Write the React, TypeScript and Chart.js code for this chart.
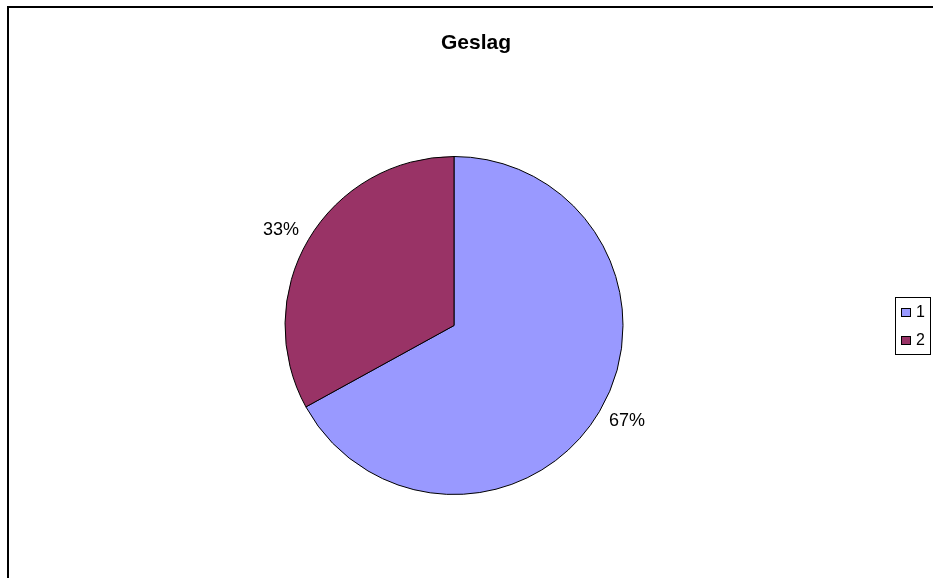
import React, { useEffect, useRef } from "react";
import { Chart, registerables } from "chart.js";

Chart.register(...registerables);

const TITLE = "Geslag";
const CATEGORIES = ["1", "2"];
const VALUES = [67, 33];
const COLORS = ["#9999FF", "#993366"];

const overlayPlugin = {
  id: "overlay",
  afterDraw(chart: any) {
    const ctx = chart.ctx as CanvasRenderingContext2D;
    ctx.save();
    // frame
    ctx.strokeStyle = "#000";
    ctx.lineWidth = 2;
    ctx.beginPath();
    ctx.moveTo(8, 578);
    ctx.lineTo(8, 7);
    ctx.lineTo(933, 7);
    ctx.stroke();

    // title
    ctx.fillStyle = "#000";
    ctx.font = "bold 21px 'Liberation Sans', Arial, sans-serif";
    ctx.textAlign = "center";
    ctx.textBaseline = "middle";
    ctx.fillText(TITLE, 476, 43);

    // percent labels
    const meta = chart.getDatasetMeta(0);
    const total = VALUES.reduce((a, b) => a + b, 0);
    ctx.font = "18px 'Liberation Sans', Arial, sans-serif";
    ctx.fillStyle = "#000";
    meta.data.forEach((arc: any, i: number) => {
      const mid = (arc.startAngle + arc.endAngle) / 2;
      const x = arc.x + Math.cos(mid) * (arc.outerRadius + 32);
      const y = arc.y + Math.sin(mid) * (arc.outerRadius + 19);
      ctx.fillText(Math.round((VALUES[i] / total) * 100) + "%", x, y);
    });

    // legend
    ctx.lineWidth = 1;
    ctx.strokeStyle = "#000";
    ctx.fillStyle = "#fff";
    ctx.fillRect(895.5, 297.5, 35, 57);
    ctx.strokeRect(895.5, 297.5, 35, 57);
    ctx.font = "16px 'Liberation Sans', Arial, sans-serif";
    ctx.textAlign = "left";
    CATEGORIES.forEach((c, i) => {
      const cy = 313 + i * 28;
      ctx.fillStyle = COLORS[i];
      ctx.fillRect(901.5, cy - 4.5, 9, 8);
      ctx.strokeRect(901.5, cy - 4.5, 9, 8);
      ctx.fillStyle = "#000";
      ctx.fillText(c, 916, cy);
    });
    ctx.restore();
  },
};

export default function App() {
  const ref = useRef<HTMLCanvasElement>(null);
  useEffect(() => {
    const chart = new Chart(ref.current!, {
      type: "pie",
      data: {
        labels: CATEGORIES,
        datasets: [
          {
            data: VALUES,
            backgroundColor: COLORS,
            borderColor: "#000",
            borderWidth: 1,
          },
        ],
      },
      options: {
        animation: false,
        responsive: false,
        events: [],
        layout: { padding: { left: 283, right: 308, top: 156, bottom: 83 } },
        plugins: {
          legend: { display: false },
          title: { display: false },
          tooltip: { enabled: false },
        },
      },
      plugins: [overlayPlugin],
    });
    return () => chart.destroy();
  }, []);
  return (
    <div style={{ position: "fixed", left: 0, top: 0, width: 933, height: 578, background: "#fff" }}>
      <canvas ref={ref} width={933} height={578} style={{ display: "block" }} />
    </div>
  );
}
